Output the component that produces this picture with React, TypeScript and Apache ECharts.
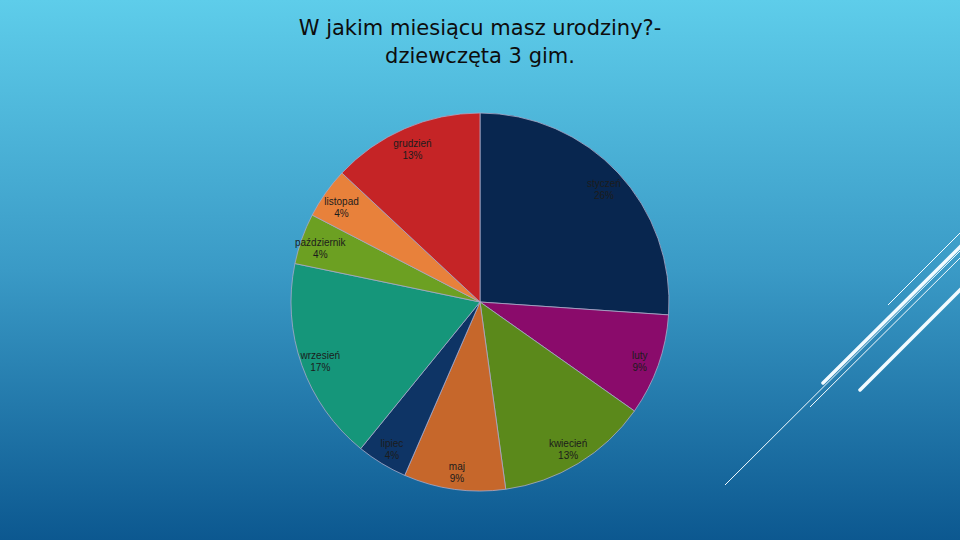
import React, { useRef, useEffect } from 'react';
import * as echarts from 'echarts';

// miesiące urodzin - dziewczęta 3 gim. (liczba osób)
const months = ['styczeń', 'luty', 'kwiecień', 'maj', 'lipiec', 'wrzesień', 'październik', 'listopad', 'grudzień'];
const counts = [6, 2, 3, 2, 1, 4, 1, 1, 3];
const colors = ['#08264f', '#8a0b6b', '#5b891b', '#c6672b', '#0e3465', '#15967a', '#6ca022', '#e8813b', '#c52426'];

const titleText = 'W jakim miesiącu masz urodziny?-\ndziewczęta 3 gim.';

const App: React.FC = () => {
  const chartRef = useRef<HTMLDivElement>(null);

  useEffect(() => {
    if (!chartRef.current) return;
    const chart = echarts.init(chartRef.current, undefined, { renderer: 'svg' });

    const data = months.map((name, i) => ({
      name,
      value: counts[i],
      itemStyle: { color: colors[i] },
    }));

    const white = { stroke: '#f2fbff' };

    chart.setOption({
      animation: false,
      backgroundColor: new echarts.graphic.LinearGradient(0, 0, 0, 1, [
        { offset: 0, color: '#5ecdea' },
        { offset: 0.5, color: '#3a9ac6' },
        { offset: 1, color: '#0c5890' },
      ]),
      title: {
        text: titleText,
        left: 'center',
        top: 9,
        textStyle: {
          fontFamily: 'DejaVu Sans',
          fontSize: 21,
          fontWeight: 'normal',
          lineHeight: 28,
          color: '#0d0d0d',
        },
      },
      graphic: [
        { type: 'line', shape: { x1: 888, y1: 305, x2: 962, y2: 231 }, style: { ...white, lineWidth: 1 } },
        { type: 'line', shape: { x1: 823, y1: 383, x2: 962, y2: 245 }, style: { ...white, lineWidth: 3.5, lineCap: 'round' } },
        { type: 'line', shape: { x1: 725, y1: 485, x2: 962, y2: 249 }, style: { ...white, lineWidth: 1 } },
        { type: 'line', shape: { x1: 810, y1: 407, x2: 962, y2: 256 }, style: { ...white, lineWidth: 1 } },
        { type: 'line', shape: { x1: 860, y1: 390, x2: 962, y2: 288 }, style: { ...white, lineWidth: 3.5, lineCap: 'round' } },
      ],
      series: [
        {
          type: 'pie',
          center: [480, 302],
          radius: [0, 189],
          startAngle: 90,
          clockwise: true,
          data,
          label: { show: false },
          labelLine: { show: false },
          itemStyle: { borderColor: '#a9a9c8', borderWidth: 0.8 },
          emphasis: { disabled: true },
        },
        {
          // przezroczysta warstwa tylko dla etykiet, bliżej krawędzi
          type: 'pie',
          center: [480, 305],
          radius: [144, 189],
          startAngle: 90,
          clockwise: true,
          silent: true,
          data: months.map((name, i) => ({ name, value: counts[i] })),
          itemStyle: { color: 'rgba(0,0,0,0)' },
          label: {
            show: true,
            position: 'inside',
            formatter: (p: any) => `${p.name}\n${Math.round(p.percent)}%`,
            fontFamily: 'Liberation Sans',
            fontSize: 10,
            lineHeight: 12,
            color: '#1c1c1c',
          },
          labelLine: { show: false },
          emphasis: { disabled: true },
        },
      ],
    });

    return () => chart.dispose();
  }, []);

  return (
    <div
      ref={chartRef}
      style={{ position: 'fixed', left: 0, top: 0, width: 960, height: 540 }}
    />
  );
};

export default App;
